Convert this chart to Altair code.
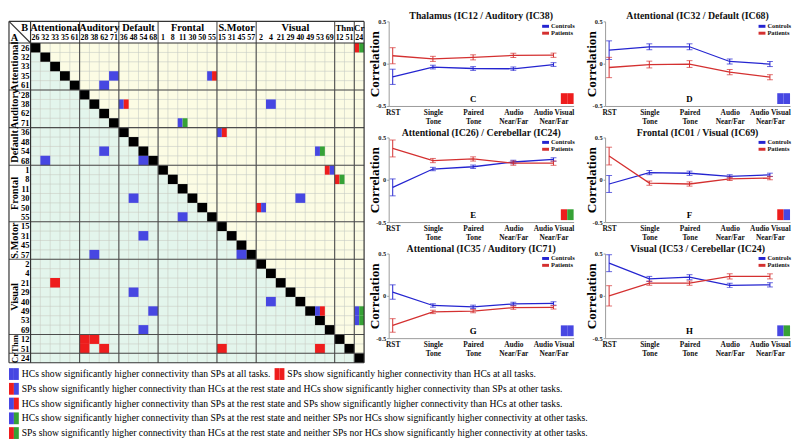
import json
import altair as alt
import pandas as pd

# ---------------- connectivity matrix ----------------
group_names = ["Attentional", "Auditory", "Default", "Frontal", "S.Motor", "Visual", "Thm", "Cr"]
group_nodes = [
    ["26", "32", "33", "35", "61"],
    ["28", "38", "62", "71"],
    ["36", "48", "54", "68"],
    ["1", "8", "11", "30", "50", "55"],
    ["15", "31", "45", "57"],
    ["2", "4", "21", "29", "40", "49", "53", "69"],
    ["12", "51"],
    ["24"],
]
cell_row_nodes = ["35", "61", "38", "71", "35", "38", "36", "54", "68", "68", "30", "55",
                  "31", "57", "54", "1", "8", "30", "50", "57", "21", "29", "49", "69",
                  "12", "12", "51", "51", "40", "49", "51", "51", "26", "49", "53"]
cell_col_nodes = ["71", "62", "36", "11", "55", "4", "15", "62", "32", "54", "48", "11",
                  "54", "38", "53", "69", "12", "40", "2", "45", "33", "48", "68", "54",
                  "28", "38", "28", "62", "4", "53", "15", "53", "24", "24", "24"]
cell_codes = ["B", "B", "BR", "BG", "BR", "B", "BR", "B", "B", "B", "B", "B",
              "B", "B", "BG", "RB", "RG", "B", "RB", "B", "R", "B", "B", "B",
              "R", "R", "R", "R", "B", "BR", "R", "R", "RG", "BG", "BG"]

# ---------------- line panels ----------------
categories = ["RST", "Single|Tone", "Paired|Tone", "Audio|Near/Far", "Audio Visual|Near/Far"]

c_title = "Thalamus (IC12 / Auditory (IC38)"
c_ctrl = [-0.155, -0.04, -0.057, -0.06, -0.01]
c_ctrl_err = [0.09, 0.022, 0.022, 0.022, 0.022]
c_pat = [0.094, 0.057, 0.075, 0.098, 0.10]
c_pat_err = [0.095, 0.03, 0.03, 0.025, 0.025]

d_title = "Attentional (IC32 / Default (IC68)"
d_ctrl = [0.16, 0.20, 0.20, 0.026, -0.004]
d_ctrl_err = [0.11, 0.035, 0.035, 0.03, 0.03]
d_pat = [-0.045, -0.01, -0.004, -0.10, -0.16]
d_pat_err = [0.12, 0.04, 0.04, 0.03, 0.03]

e_title = "Attentional (IC26) / Cerebellar (IC24)"
e_ctrl = [-0.09, 0.127, 0.154, 0.21, 0.24]
e_ctrl_err = [0.10, 0.02, 0.02, 0.02, 0.02]
e_pat = [0.37, 0.227, 0.246, 0.196, 0.196]
e_pat_err = [0.10, 0.025, 0.025, 0.025, 0.025]

f_title = "Frontal (IC01 / Visual (IC69)"
f_ctrl = [-0.05, 0.085, 0.077, 0.04, 0.058]
f_ctrl_err = [0.10, 0.025, 0.025, 0.02, 0.02]
f_pat = [0.28, -0.04, -0.05, 0.01, 0.02]
f_pat_err = [0.105, 0.025, 0.025, 0.02, 0.02]

g_title = "Attentional (IC35 / Auditory (IC71)"
g_ctrl = [0.045, -0.114, -0.13, -0.095, -0.09]
g_ctrl_err = [0.085, 0.02, 0.02, 0.02, 0.02]
g_pat = [-0.35, -0.19, -0.18, -0.14, -0.136]
g_pat_err = [0.08, 0.02, 0.02, 0.02, 0.02]

h_title = "Visual (IC53 / Cerebellar (IC24)"
h_ctrl = [0.386, 0.20, 0.22, 0.125, 0.13]
h_ctrl_err = [0.10, 0.03, 0.03, 0.025, 0.025]
h_pat = [0.0, 0.15, 0.15, 0.23, 0.23]
h_pat_err = [0.12, 0.025, 0.025, 0.03, 0.03]

# ---------------- bottom legend ----------------
legend_codes = ["B", "RB", "BR", "BG", "RG"]
legend_texts = [
    "HCs show significantly higher connectivity than SPs at all tasks.",
    "SPs show significantly higher connectivity than HCs at the rest state and HCs show significantly higher connectivity than SPs at other tasks.",
    "HCs show significantly higher connectivity than SPs at the rest state and SPs show significantly higher connectivity than HCs at other tasks.",
    "HCs show significantly higher connectivity than SPs at the rest state and neither SPs nor HCs show significantly higher connectivity at other tasks.",
    "SPs show significantly higher connectivity than HCs at the rest state and neither SPs nor HCs show significantly higher connectivity at other tasks.",
]
extra_code = "R"
extra_text = "SPs show significantly higher connectivity than HCs at all tasks."

# ---------------- styling ----------------
SERIF = "Liberation Serif"
CELL_BLUE = "#4747e2"
CELL_RED = "#ee1d1d"
CELL_GREEN = "#36a236"
LINE_BLUE = "#2424d0"
LINE_RED = "#d43030"
code_color = {"upper": "#fcfce4", "lower": "#e3f5ec", "diag": "#000000",
              "B": CELL_BLUE, "R": CELL_RED, "G": CELL_GREEN}

# ================= matrix chart =================
nodes = [n for g in group_nodes for n in g]
N = len(nodes)
pos = {n: i for i, n in enumerate(nodes)}
starts = []
s = 0
for g in group_nodes:
    starts.append(s)
    s += len(g)
group_bounds = starts[1:]

XMIN, YMIN = -2.2, -2.3
bg_rows, hl_rows = [], []
for r in range(N):
    for c in range(N):
        if r == c:
            hl_rows.append(dict(x=c, x2=c + 1, y=r, y2=r + 1, k="diag"))
        else:
            bg_rows.append(dict(x=c, x2=c + 1, y=r, y2=r + 1, k="upper" if c > r else "lower"))
for rn, cn, code in zip(cell_row_nodes, cell_col_nodes, cell_codes):
    r, c = pos[rn], pos[cn]
    if len(code) == 1:
        hl_rows.append(dict(x=c, x2=c + 1, y=r, y2=r + 1, k=code))
    else:
        hl_rows.append(dict(x=c, x2=c + 0.5, y=r, y2=r + 1, k=code[0]))
        hl_rows.append(dict(x=c + 0.5, x2=c + 1, y=r, y2=r + 1, k=code[1]))
for row in bg_rows + hl_rows:
    row["fill"] = code_color[row["k"]]

grid_rows = []
for i in range(1, N):
    grid_rows.append(dict(x=i, x2=i, y=0, y2=N))
    grid_rows.append(dict(x=0, x2=N, y=i, y2=i))
sep_rows = []
for b in group_bounds:
    sep_rows.append(dict(x=b, x2=b, y=YMIN, y2=N))
    sep_rows.append(dict(x=XMIN, x2=N, y=b, y2=b))
frame_rows = [
    dict(x=XMIN, x2=XMIN, y=YMIN, y2=N), dict(x=N, x2=N, y=YMIN, y2=N),
    dict(x=0, x2=0, y=YMIN, y2=N), dict(x=XMIN, x2=N, y=YMIN, y2=YMIN),
    dict(x=XMIN, x2=N, y=N, y2=N), dict(x=XMIN, x2=N, y=0, y2=0),
    dict(x=XMIN, x2=0, y=YMIN, y2=0),
]

head_rows, colnum_rows, rownum_rows, rowgrp_rows = [], [], [], []
for name, g, st in zip(group_names, group_nodes, starts):
    head_rows.append(dict(x=st + len(g) / 2, y=-1.62, t=name, fs=10.5 if len(g) > 2 else 9))
    rowgrp_rows.append(dict(x=-1.62, y=st + len(g) / 2, t=name, fs=10.5 if len(g) > 2 else 9))
for i, n in enumerate(nodes):
    colnum_rows.append(dict(x=i + 0.5, y=-0.55, t=n))
    rownum_rows.append(dict(x=-0.12, y=i + 0.5, t=n))
corner_rows = [dict(x=-0.6, y=-1.62, t="B"), dict(x=-1.65, y=-0.55, t="A")]

MX = alt.X("x:Q", scale=alt.Scale(domain=[XMIN, N], nice=False, zero=False), axis=None)
MY = alt.Y("y:Q", scale=alt.Scale(domain=[YMIN, N], nice=False, zero=False, reverse=True), axis=None)
fill = alt.Color("fill:N", scale=None)

m_bg = alt.Chart(pd.DataFrame(bg_rows)).mark_rect().encode(x=MX, x2="x2:Q", y=MY, y2="y2:Q", color=fill)
m_grid = alt.Chart(pd.DataFrame(grid_rows)).mark_rule(color="#c6cac0", strokeWidth=0.6).encode(
    x=MX, x2="x2:Q", y=MY, y2="y2:Q")
m_hl = alt.Chart(pd.DataFrame(hl_rows)).mark_rect().encode(x=MX, x2="x2:Q", y=MY, y2="y2:Q", color=fill)
m_sep = alt.Chart(pd.DataFrame(sep_rows)).mark_rule(color="#4d4d4d", strokeWidth=1.1).encode(
    x=MX, x2="x2:Q", y=MY, y2="y2:Q")
m_frame = alt.Chart(pd.DataFrame(frame_rows)).mark_rule(color="#333333", strokeWidth=1.2).encode(
    x=MX, x2="x2:Q", y=MY, y2="y2:Q")


def mtext(rows, size, **kw):
    enc = dict(x=MX, y=MY, text="t:N")
    if "fs" in rows[0]:
        enc["size"] = alt.Size("fs:Q", scale=None)
    return alt.Chart(pd.DataFrame(rows)).mark_text(
        font=SERIF, fontWeight="bold", fontSize=size, color="black", **kw
    ).encode(**enc)


m_head = mtext(head_rows, 10.5, baseline="middle")
m_colnum = mtext(colnum_rows, 8, baseline="middle")
m_rownum = mtext(rownum_rows, 8.5, baseline="middle", align="right")
m_rowgrp = mtext(rowgrp_rows, 10.5, baseline="middle", angle=270)
m_corner = mtext(corner_rows, 10.5, baseline="middle")

matrix = alt.layer(m_bg, m_grid, m_hl, m_sep, m_frame, m_head, m_colnum, m_rownum,
                   m_rowgrp, m_corner).properties(width=361, height=347)

# ================= line panels =================
PW, PH = 188, 86
cat_expr = "split(" + json.dumps(categories) + "[datum.value], '|')"


def panel(title, ctrl, ctrl_err, pat, pat_err, letter, square):
    xaxis = alt.Axis(values=[0, 1, 2, 3, 4], labelExpr=cat_expr, grid=False, ticks=False,
                     domainColor="#9a9a9a", labelFont=SERIF, labelFontWeight="bold",
                     labelFontSize=7.5, labelColor="#111", labelPadding=3, labelLineHeight=9,
                     labelFlush=False, labelOverlap=False)
    yaxis = alt.Axis(values=[-0.5, 0, 0.5],
                     labelExpr="datum.value == 0 ? '0' : (datum.value > 0 ? '0.5' : '-0.5')",
                     grid=False, tickSize=2, tickColor="#9a9a9a", domainColor="#9a9a9a",
                     labelFont=SERIF, labelFontWeight="bold", labelFontSize=6.5,
                     labelColor="#222", labelPadding=1, labelFlush=False,
                     titleFont=SERIF, titleFontWeight="bold", titleFontSize=13.5,
                     titleColor="black", titleX=-14, titleY=PH / 2, titleAngle=270,
                     titleAlign="center", titleBaseline="middle")
    xs = alt.Scale(domain=[-0.1, 4.5], nice=False, zero=False)
    ys = alt.Scale(domain=[-0.5, 0.5], nice=False, zero=False)
    X = alt.X("xi:Q", scale=xs, axis=xaxis, title=None)

    def Y(field):
        return alt.Y(field, scale=ys, axis=yaxis, title="Correlation")

    layers = []
    for m, e, c in ((ctrl, ctrl_err, LINE_BLUE), (pat, pat_err, LINE_RED)):
        df = pd.DataFrame({"xi": list(range(len(categories))), "m": m,
                           "lo": [a - b for a, b in zip(m, e)],
                           "hi": [a + b for a, b in zip(m, e)]})
        base = alt.Chart(df)
        layers.append(base.mark_line(color=c, strokeWidth=1.3).encode(x=X, y=Y("m:Q")))
        layers.append(base.mark_rule(color=c, strokeWidth=1).encode(x=X, y=Y("lo:Q"), y2="hi:Q"))
        layers.append(base.mark_tick(color=c, orient="horizontal", size=6, thickness=1).encode(
            x=X, y=Y("lo:Q")))
        layers.append(base.mark_tick(color=c, orient="horizontal", size=6, thickness=1).encode(
            x=X, y=Y("hi:Q")))
    one = alt.Chart(pd.DataFrame({"a": [0]}))
    for k, (lab, c) in enumerate((("Controls", LINE_BLUE), ("Patients", LINE_RED))):
        yy = 5 + 7 * k
        layers.append(one.mark_rule(color=c, strokeWidth=3).encode(
            x=alt.value(PW - 32), x2=alt.value(PW - 25), y=alt.value(yy)))
        layers.append(one.mark_text(font=SERIF, fontWeight="bold", fontSize=6.5, color="#111",
                                    align="left", baseline="middle").encode(
            x=alt.value(PW - 23), y=alt.value(yy), text=alt.value(lab)))
    layers.append(one.mark_text(font=SERIF, fontWeight="bold", fontSize=9, color="black").encode(
        x=alt.datum(2), y=alt.datum(-0.42), text=alt.value(letter)))
    left, right = square[0], square[-1]
    layers.append(one.mark_rect(color=code_color[left]).encode(
        x=alt.value(PW - 13), x2=alt.value(PW - 6.5), y=alt.value(PH - 13), y2=alt.value(PH - 2)))
    layers.append(one.mark_rect(color=code_color[right]).encode(
        x=alt.value(PW - 6.5), x2=alt.value(PW), y=alt.value(PH - 13), y2=alt.value(PH - 2)))
    return alt.layer(*layers).properties(
        width=PW, height=PH,
        title=alt.TitleParams(title, font=SERIF, fontWeight="bold", fontSize=10,
                              color="#111", offset=-3, anchor="middle"))


pC = panel(c_title, c_ctrl, c_ctrl_err, c_pat, c_pat_err, "C", "R")
pD = panel(d_title, d_ctrl, d_ctrl_err, d_pat, d_pat_err, "D", "B")
pE = panel(e_title, e_ctrl, e_ctrl_err, e_pat, e_pat_err, "E", "RG")
pF = panel(f_title, f_ctrl, f_ctrl_err, f_pat, f_pat_err, "F", "RB")
pG = panel(g_title, g_ctrl, g_ctrl_err, g_pat, g_pat_err, "G", "B")
pH = panel(h_title, h_ctrl, h_ctrl_err, h_pat, h_pat_err, "H", "BG")

right_block = alt.vconcat(
    alt.hconcat(pC, pD, spacing=8),
    alt.hconcat(pE, pF, spacing=8),
    alt.hconcat(pG, pH, spacing=8),
    spacing=2)
top_row = alt.hconcat(matrix, right_block, spacing=2)

# ================= bottom legend =================
leg_rows = []
for i, (code, txt) in enumerate(zip(legend_codes, legend_texts)):
    leg_rows.append(dict(line=i, lc=code_color[code[0]], rc=code_color[code[-1]], t=txt))
leg_df = pd.DataFrame(leg_rows)
extra_df = pd.DataFrame([dict(line=0, lc=code_color[extra_code[0]],
                              rc=code_color[extra_code[-1]], t=extra_text)])

line_scale = alt.Scale(domain=[-0.5, 4.5], nice=False, zero=False, reverse=True)


def legend_layers(df, x0):
    b = alt.Chart(df).transform_calculate(y0="datum.line - 0.4", y1="datum.line + 0.4")
    lsq = b.mark_rect().encode(
        x=alt.value(x0), x2=alt.value(x0 + 5),
        y=alt.Y("y0:Q", scale=line_scale, axis=None), y2="y1:Q",
        color=alt.Color("lc:N", scale=None))
    rsq = b.mark_rect().encode(
        x=alt.value(x0 + 5), x2=alt.value(x0 + 10),
        y=alt.Y("y0:Q", scale=line_scale, axis=None), y2="y1:Q",
        color=alt.Color("rc:N", scale=None))
    txt = alt.Chart(df).mark_text(font=SERIF, fontSize=9.8, color="black", align="left",
                                  baseline="middle").encode(
        x=alt.value(x0 + 13), y=alt.Y("line:Q", scale=line_scale, axis=None), text="t:N")
    return [lsq, rsq, txt]


legend_chart = alt.layer(*legend_layers(leg_df, 0), *legend_layers(extra_df, 270)).properties(
    width=780, height=75)

chart = alt.vconcat(top_row, legend_chart, spacing=3).properties(
    padding=0).configure_view(stroke=None)

chart.save("out.html", embed_options={"renderer": "svg", "actions": False})
